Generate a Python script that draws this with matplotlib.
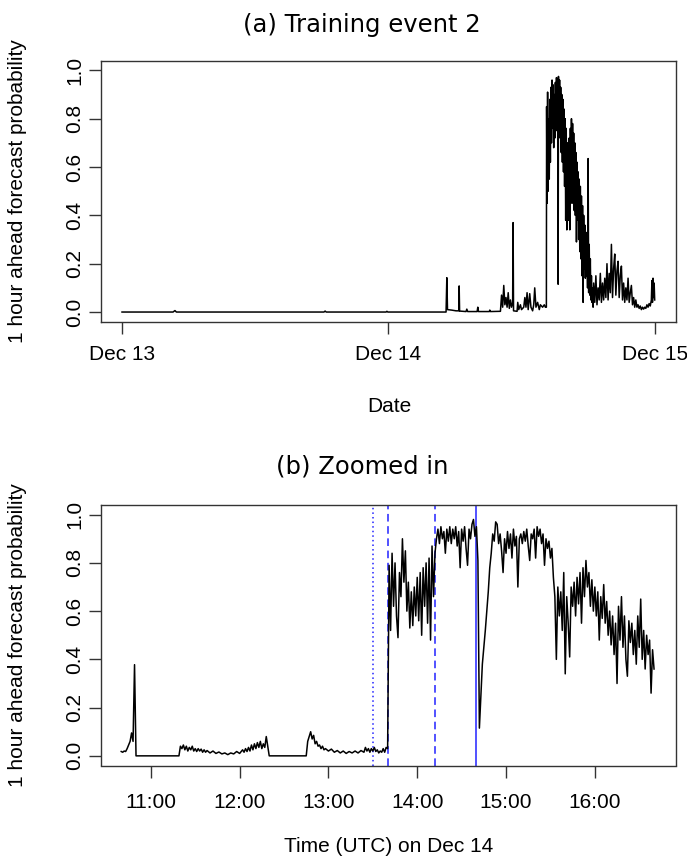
#!/usr/bin/env python3
"""
Two-panel forecast probability plot: full training event + zoomed-in window.
Saves out.png (687x863).
"""

import matplotlib
matplotlib.use("Agg")
import matplotlib.pyplot as plt

# ---- panel (a): hours since Dec 13 00:00 UTC ----
A_HOURS = [
    0.0, 4.6, 4.77, 4.9, 18.2, 18.3, 18.4, 23.8, 23.87, 23.95,
    29.2, 29.27, 29.33, 29.7, 30.1, 30.35, 30.38, 30.42, 31.0, 31.07,
    31.15, 32.0, 32.06, 32.12, 33.1, 33.14, 33.2, 34.1, 34.2, 34.3,
    34.4, 34.5, 34.6, 34.7, 34.8, 34.9, 35.0, 35.1, 35.2, 35.24,
    35.28, 35.6, 35.66, 35.75, 35.9, 36.0, 36.2, 36.3, 36.4, 36.5,
    36.6, 36.74, 36.85, 37.0, 37.1, 37.19, 37.3, 37.45, 37.6, 37.7,
    37.9, 38.05, 38.15, 38.24, 38.26, 38.30, 38.35, 38.40, 38.45, 38.50,
    38.55, 38.60, 38.65, 38.70, 38.75, 38.80, 38.85, 38.90, 38.95, 39.00,
    39.05, 39.10, 39.15, 39.20, 39.25, 39.30, 39.33, 39.38, 39.43, 39.48,
    39.53, 39.58, 39.63, 39.68, 39.73, 39.78, 39.83, 39.88, 39.93, 39.98,
    40.03, 40.08, 40.13, 40.20, 40.25, 40.30, 40.35, 40.40, 40.45, 40.50,
    40.55, 40.60, 40.65, 40.70, 40.75, 40.80, 40.85, 40.90, 40.95, 41.00,
    41.05, 41.10, 41.15, 41.20, 41.25, 41.30, 41.35, 41.40, 41.45, 41.50,
    41.55, 41.60, 41.65, 41.70, 41.75, 41.80, 41.85, 41.90, 41.95, 42.00,
    42.05, 42.10, 42.15, 42.20, 42.25, 42.30, 42.35, 42.40, 42.45, 42.50,
    42.60, 42.70, 42.80, 42.90, 43.00, 43.10, 43.20, 43.30, 43.40, 43.50,
    43.60, 43.70, 43.80, 43.90, 44.00, 44.10, 44.20, 44.30, 44.40, 44.50,
    44.60, 44.70, 44.80, 44.90, 45.00, 45.10, 45.20, 45.30, 45.40, 45.50,
    45.60, 45.70, 45.80, 45.90, 46.00, 46.10, 46.20, 46.30, 46.40, 46.50,
    46.60, 46.70, 46.80, 46.90, 47.00, 47.10, 47.20, 47.30, 47.40, 47.50,
    47.60, 47.70, 47.75, 47.80, 47.85, 47.90, 47.95, 48.00,
]
A_PROB = [
    0, 0, 0.006, 0, 0, 0.004, 0, 0, 0.003, 0,
    0, 0.142, 0.01, 0.008, 0.005, 0.005, 0.108, 0.004, 0.002, 0.012,
    0.002, 0.002, 0.02, 0.002, 0.002, 0.008, 0.002, 0.003, 0.07, 0.02,
    0.11, 0.03, 0.06, 0.02, 0.08, 0.015, 0.05, 0.02, 0.04, 0.37,
    0.005, 0.003, 0.04, 0.01, 0.03, 0.01, 0.02, 0.06, 0.02, 0.08,
    0.01, 0.076, 0.02, 0.005, 0.03, 0.1, 0.02, 0.04, 0.01, 0.03,
    0.02, 0.03, 0.02, 0.02, 0.85, 0.45, 0.91, 0.50, 0.80, 0.55,
    0.88, 0.62, 0.93, 0.70, 0.96, 0.76, 0.94, 0.68, 0.90, 0.72,
    0.95, 0.75, 0.97, 0.78, 0.94, 0.115, 0.975, 0.78, 0.96, 0.72,
    0.93, 0.66, 0.90, 0.62, 0.88, 0.58, 0.84, 0.52, 0.80, 0.38,
    0.76, 0.34, 0.70, 0.62, 0.38, 0.72, 0.34, 0.76, 0.48, 0.80,
    0.45, 0.78, 0.50, 0.74, 0.42, 0.70, 0.40, 0.66, 0.29, 0.62,
    0.38, 0.58, 0.30, 0.55, 0.25, 0.52, 0.22, 0.48, 0.15, 0.44,
    0.04, 0.40, 0.18, 0.36, 0.14, 0.33, 0.15, 0.30, 0.10, 0.635,
    0.08, 0.28, 0.07, 0.22, 0.05, 0.15, 0.04, 0.10, 0.02, 0.12,
    0.04, 0.15, 0.03, 0.10, 0.05, 0.16, 0.04, 0.12, 0.05, 0.14,
    0.06, 0.20, 0.05, 0.16, 0.08, 0.28, 0.06, 0.18, 0.24, 0.07,
    0.17, 0.21, 0.06, 0.15, 0.19, 0.05, 0.12, 0.04, 0.10, 0.05,
    0.14, 0.04, 0.08, 0.11, 0.03, 0.06, 0.02, 0.05, 0.02, 0.03,
    0.015, 0.025, 0.01, 0.02, 0.012, 0.02, 0.015, 0.03, 0.02, 0.035,
    0.025, 0.05, 0.13, 0.04, 0.14, 0.06, 0.12, 0.05,
]
A_TICKS = [0, 24, 48]
A_TICK_LABELS = ["Dec 13", "Dec 14", "Dec 15"]

# ---- panel (b): UTC clock time on Dec 14 ----
B_TIMES = [
    "10:40", "10:41", "10:42", "10:43", "10:44", "10:45", "10:46", "10:47", "10:48", "10:49",
    "10:49:30", "10:50", "11:19", "11:20", "11:21", "11:22", "11:23", "11:24", "11:25", "11:26",
    "11:27", "11:28", "11:29", "11:30", "11:31", "11:32", "11:33", "11:34", "11:35", "11:36",
    "11:37", "11:38", "11:40", "11:42", "11:44", "11:46", "11:48", "11:50", "11:52", "11:54",
    "11:56", "11:58", "12:00", "12:02", "12:03", "12:04", "12:05", "12:06", "12:07", "12:08",
    "12:09", "12:10", "12:11", "12:12", "12:13", "12:14", "12:15", "12:16", "12:17", "12:18",
    "12:19", "12:20", "12:45", "12:46", "12:47", "12:48", "12:49", "12:50", "12:51", "12:52",
    "12:53", "12:54", "12:55", "12:56", "12:57", "12:58", "13:00", "13:02", "13:04", "13:06",
    "13:08", "13:10", "13:12", "13:14", "13:16", "13:18", "13:20", "13:22", "13:24", "13:25",
    "13:26", "13:27", "13:28", "13:29", "13:30", "13:31", "13:32", "13:33", "13:34", "13:35",
    "13:36", "13:37", "13:38", "13:39", "13:40",
    "13:41", "13:42", "13:43", "13:44", "13:45", "13:46", "13:47", "13:48", "13:49", "13:50",
    "13:51", "13:52", "13:53", "13:54", "13:55", "13:56", "13:57", "13:58", "13:59", "14:00",
    "14:01", "14:02", "14:03", "14:04", "14:05", "14:06", "14:07", "14:08", "14:09", "14:10",
    "14:11", "14:12", "14:13", "14:14", "14:15", "14:16", "14:17", "14:18", "14:19", "14:20",
    "14:21", "14:22", "14:23", "14:24", "14:25", "14:26", "14:27", "14:28", "14:29", "14:30",
    "14:31", "14:32", "14:33", "14:34", "14:35", "14:36", "14:37", "14:38", "14:39", "14:40",
    "14:41", "14:42", "14:43", "14:44", "14:45", "14:46", "14:47", "14:48", "14:49", "14:50",
    "14:51", "14:52", "14:53", "14:54", "14:55", "14:56", "14:57", "14:58", "14:59", "15:00",
    "15:01", "15:02", "15:03", "15:04", "15:05", "15:06", "15:07", "15:08", "15:09", "15:10",
    "15:11", "15:12", "15:13", "15:14", "15:15", "15:16", "15:17", "15:18", "15:19", "15:20",
    "15:21", "15:22", "15:23", "15:24", "15:25", "15:26", "15:27", "15:28", "15:29", "15:30",
    "15:31", "15:32", "15:33", "15:34", "15:35", "15:36", "15:37", "15:38", "15:39", "15:40",
    "15:41", "15:42", "15:43", "15:44", "15:45", "15:46", "15:47", "15:48", "15:49", "15:50",
    "15:51", "15:52", "15:53", "15:54", "15:55", "15:56", "15:57", "15:58", "15:59", "16:00",
    "16:01", "16:02", "16:03", "16:04", "16:05", "16:06", "16:07", "16:08", "16:09", "16:10",
    "16:11", "16:12", "16:13", "16:14", "16:15", "16:16", "16:17", "16:18", "16:19", "16:20",
    "16:21", "16:22", "16:23", "16:24", "16:25", "16:26", "16:27", "16:28", "16:29", "16:30",
    "16:31", "16:32", "16:33", "16:34", "16:35", "16:36", "16:37", "16:38", "16:39", "16:40",
]
B_PROB = [
    0.018, 0.015, 0.02, 0.018, 0.03, 0.045, 0.06, 0.095, 0.06, 0.378,
    0.19, 0.0, 0.0, 0.04, 0.03, 0.045, 0.025, 0.04, 0.02, 0.035,
    0.025, 0.04, 0.02, 0.03, 0.018, 0.03, 0.02, 0.028, 0.015, 0.025,
    0.015, 0.022, 0.012, 0.02, 0.01, 0.016, 0.008, 0.012, 0.005, 0.012,
    0.008, 0.018, 0.01, 0.025, 0.015, 0.03, 0.018, 0.035, 0.02, 0.045,
    0.025, 0.05, 0.03, 0.055, 0.035, 0.06, 0.03, 0.05, 0.035, 0.08,
    0.04, 0.0, 0.0, 0.06, 0.08, 0.10, 0.07, 0.085, 0.05, 0.06,
    0.04, 0.045, 0.03, 0.04, 0.025, 0.03, 0.02, 0.028, 0.015, 0.022,
    0.012, 0.02, 0.01, 0.018, 0.012, 0.02, 0.012, 0.022, 0.015, 0.035,
    0.02, 0.03, 0.015, 0.03, 0.02, 0.035, 0.018, 0.025, 0.012, 0.02,
    0.015, 0.03, 0.015, 0.035, 0.03,
    0.79, 0.52, 0.84, 0.62, 0.80, 0.58, 0.49, 0.76, 0.66, 0.90,
    0.72, 0.85, 0.60, 0.72, 0.53, 0.68, 0.54, 0.70, 0.58, 0.74,
    0.56, 0.76, 0.50, 0.78, 0.62, 0.80, 0.55, 0.82, 0.48, 0.87,
    0.66, 0.84, 0.90, 0.94, 0.88, 0.95, 0.90, 0.93, 0.84, 0.94,
    0.89, 0.95, 0.88, 0.94, 0.90, 0.95, 0.87, 0.93, 0.78, 0.94,
    0.89, 0.95, 0.86, 0.79, 0.94, 0.90, 0.96, 0.98, 0.91, 0.95,
    0.81, 0.115, 0.25, 0.38, 0.45, 0.52, 0.60, 0.68, 0.78, 0.84,
    0.92, 0.89, 0.97, 0.96, 0.88, 0.92, 0.85, 0.76, 0.90, 0.84,
    0.93, 0.86, 0.92, 0.82, 0.94, 0.87, 0.91, 0.70, 0.90, 0.92,
    0.88, 0.93, 0.89, 0.94, 0.87, 0.81, 0.92, 0.90, 0.94, 0.82,
    0.95, 0.91, 0.94, 0.88, 0.92, 0.79, 0.90, 0.86, 0.89, 0.82,
    0.86, 0.74, 0.66, 0.40, 0.70, 0.58, 0.68, 0.52, 0.76, 0.34,
    0.66, 0.55, 0.41, 0.70, 0.62, 0.72, 0.58, 0.74, 0.63, 0.76,
    0.55, 0.78, 0.66, 0.81, 0.70, 0.76, 0.62, 0.73, 0.60, 0.70,
    0.58, 0.68, 0.48, 0.66, 0.57, 0.71, 0.55, 0.64, 0.50, 0.60,
    0.46, 0.58, 0.42, 0.55, 0.30, 0.62, 0.48, 0.66, 0.45, 0.58,
    0.40, 0.33, 0.56, 0.47, 0.55, 0.42, 0.52, 0.38, 0.58, 0.45,
    0.65, 0.40, 0.52, 0.36, 0.50, 0.42, 0.48, 0.26, 0.44, 0.36,
]
B_TICKS = ["11:00", "12:00", "13:00", "14:00", "15:00", "16:00"]

# event markers in panel (b)
MARK_TIMES = ["13:30", "13:40", "14:12", "14:40"]
MARK_STYLES = [(0, (1, 2)), (0, (5, 3)), (0, (5, 3)), "-"]

YTICKS = [0.0, 0.2, 0.4, 0.6, 0.8, 1.0]
YLABEL = "1 hour ahead forecast probability"

TICK_FONT = "Liberation Sans"
TITLE_FONT = "DejaVu Sans"


def to_hours(s):
    parts = [int(p) for p in s.split(":")]
    while len(parts) < 3:
        parts.append(0)
    return parts[0] + parts[1] / 60 + parts[2] / 3600


def style_axes(ax, xpad):
    for sp in ax.spines.values():
        sp.set_color("#333333")
        sp.set_linewidth(1.0)
    ax.tick_params(axis="both", direction="out", length=8.5, width=1.0,
                   color="#333333", labelsize=15)
    ax.tick_params(axis="x", pad=xpad)
    ax.tick_params(axis="y", pad=3.5)
    ax.set_yticks(YTICKS)
    ax.set_yticklabels([f"{v:.1f}" for v in YTICKS], rotation=90, va="center")
    for lbl in ax.get_xticklabels() + ax.get_yticklabels():
        lbl.set_fontfamily(TICK_FONT)
    ax.set_ylim(-0.04, 1.04)


W, H = 687, 863
fig = plt.figure(figsize=(W / 100, H / 100), dpi=100)

# (a) full event
ax1 = fig.add_axes([100.7 / W, 1 - 321.7 / H, 575.3 / W, 261.0 / H])
ax1.plot(A_HOURS, A_PROB, color="black", lw=1.1)
ax1.set_xlim(-1.92, 49.92)
ax1.set_xticks(A_TICKS)
ax1.set_xticklabels(A_TICK_LABELS)
style_axes(ax1, xpad=8)

# (b) zoomed in
b_hours = [to_hours(t) for t in B_TIMES]
ax2 = fig.add_axes([101 / W, 1 - 765.5 / H, 575 / W, 260.5 / H])
ax2.plot(b_hours, B_PROB, color="black", lw=1.1)
for t, ls in zip(MARK_TIMES, MARK_STYLES):
    ax2.axvline(to_hours(t), color="#2222ff", lw=1.1, ls=ls, zorder=1)
ax2.set_xlim(10.439, 16.914)
ax2.set_xticks([to_hours(t) for t in B_TICKS])
ax2.set_xticklabels(B_TICKS)
style_axes(ax2, xpad=11)

# titles and axis labels
fig.text(362 / W, 1 - 32 / H, "(a) Training event 2", ha="center", va="baseline",
         fontsize=17.5, family=TITLE_FONT)
fig.text(362 / W, 1 - 473 / H, "(b) Zoomed in", ha="center", va="baseline",
         fontsize=17.5, family=TITLE_FONT)
fig.text(389 / W, 1 - 407 / H, "Date", ha="center", va="center",
         fontsize=15, family=TICK_FONT)
fig.text(389 / W, 1 - 846 / H, "Time (UTC) on Dec 14", ha="center", va="center",
         fontsize=15, family=TICK_FONT)
fig.text(18 / W, 1 - 191 / H, YLABEL, rotation=90, ha="center", va="center",
         fontsize=15, family=TICK_FONT)
fig.text(18 / W, 1 - 635 / H, YLABEL, rotation=90, ha="center", va="center",
         fontsize=15, family=TICK_FONT)

fig.savefig("out.png", dpi=100)
